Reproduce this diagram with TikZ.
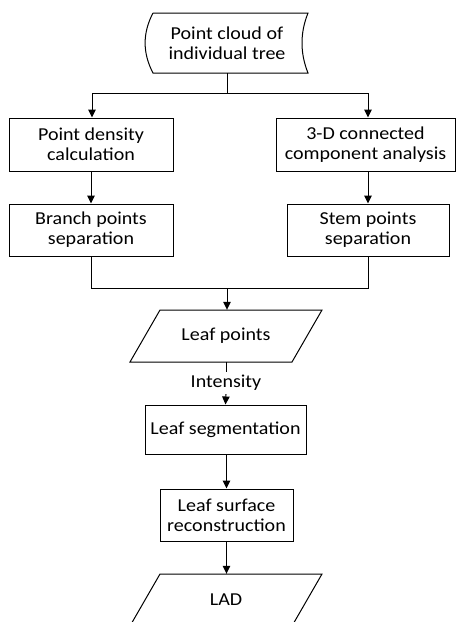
\documentclass[tikz,border=0pt]{standalone}
\usepackage{fontspec}
\setmainfont{Carlito}[FakeStretch=1.1]
\usetikzlibrary{arrows.meta}
\tikzset{
  txt/.style={align=center, inner sep=0pt, font=\fontsize{18.2}{20}\selectfont},
  box/.style={txt, draw, line width=1pt},
  conn/.style={line width=1pt},
  arr/.style={conn, -{Triangle[width=7.5pt,length=8pt]}},
}
\begin{document}
\begin{tikzpicture}[x=1pt,y=-1pt]
\useasboundingbox (0,0) rectangle (456,622);
\begin{scope}
\clip (0,0) rectangle (456,622);
% source (stored data shape)
\node[txt, minimum width=150pt, minimum height=60pt] (src) at (227,43) {Point cloud of\\individual tree};
\draw[conn] (153,13) -- (308,13) .. controls (300,33) and (300,53) .. (308,73)
  -- (153,73) .. controls (142.5,53) and (142.5,33) .. (153,13);
\coordinate (jt) at (227,93);
\coordinate (jl) at (92,93);
\coordinate (jr) at (368,93);
\coordinate (jb) at (227,288);
% boxes
\node[box, minimum width=164pt, minimum height=53pt] (pd) at (91,144.5) {Point density\\calculation};
\node[box, minimum width=164pt, minimum height=52pt] (bp) at (91,230) {Branch points\\separation};
\node[box, minimum width=179pt, minimum height=53pt] (cc) at (365.5,144.5) {3-D connected\\component analysis};
\node[box, minimum width=162pt, minimum height=52pt] (ss) at (368,230) {Stem points\\separation};
% leaf points parallelogram
\node[txt, minimum width=162pt, minimum height=52pt] (lp) at (226,336) {Leaf points};
\draw[conn] (130,362) -- (160,310) -- (322,310) -- (292,362) -- cycle;
\node[txt, minimum height=22pt] (int) at (226,383) {Intensity};
\node[box, minimum width=161pt, minimum height=49pt] (seg) at (225.5,429.5) {Leaf segmentation};
\node[box, minimum width=133pt, minimum height=52pt] (lsr) at (226.5,515) {Leaf surface\\reconstruction};
% LAD parallelogram
\node[txt, minimum width=162pt, minimum height=52pt] (lad) at (226,600) {LAD};
\draw[conn] (130,626) -- (160,574) -- (322,574) -- (292,626) -- cycle;
% connectors
\draw[conn] (src.south) -- (jt);
\draw[conn] (jl) -- (jr);
\draw[arr] (jl) -- (jl |- pd.north);
\draw[arr] (jr) -- (jr |- cc.north);
\draw[arr] (pd.south) -- (bp.north);
\draw[arr] (cc.south -| ss.north) -- (ss.north);
\draw[conn] (bp.south) -- (bp.south |- jb) -- (ss.south |- jb) -- (ss.south);
\draw[arr] (jb) -- (jb |- lp.north);
\draw[conn] (lp.south) -- (int.north);
\draw[arr] (int.south) -- (seg.north);
\draw[arr] (seg.south -| lsr.north) -- (lsr.north);
\draw[arr] (lsr.south) -- (lsr.south |- lad.north);
\end{scope}
\end{tikzpicture}
\end{document}
